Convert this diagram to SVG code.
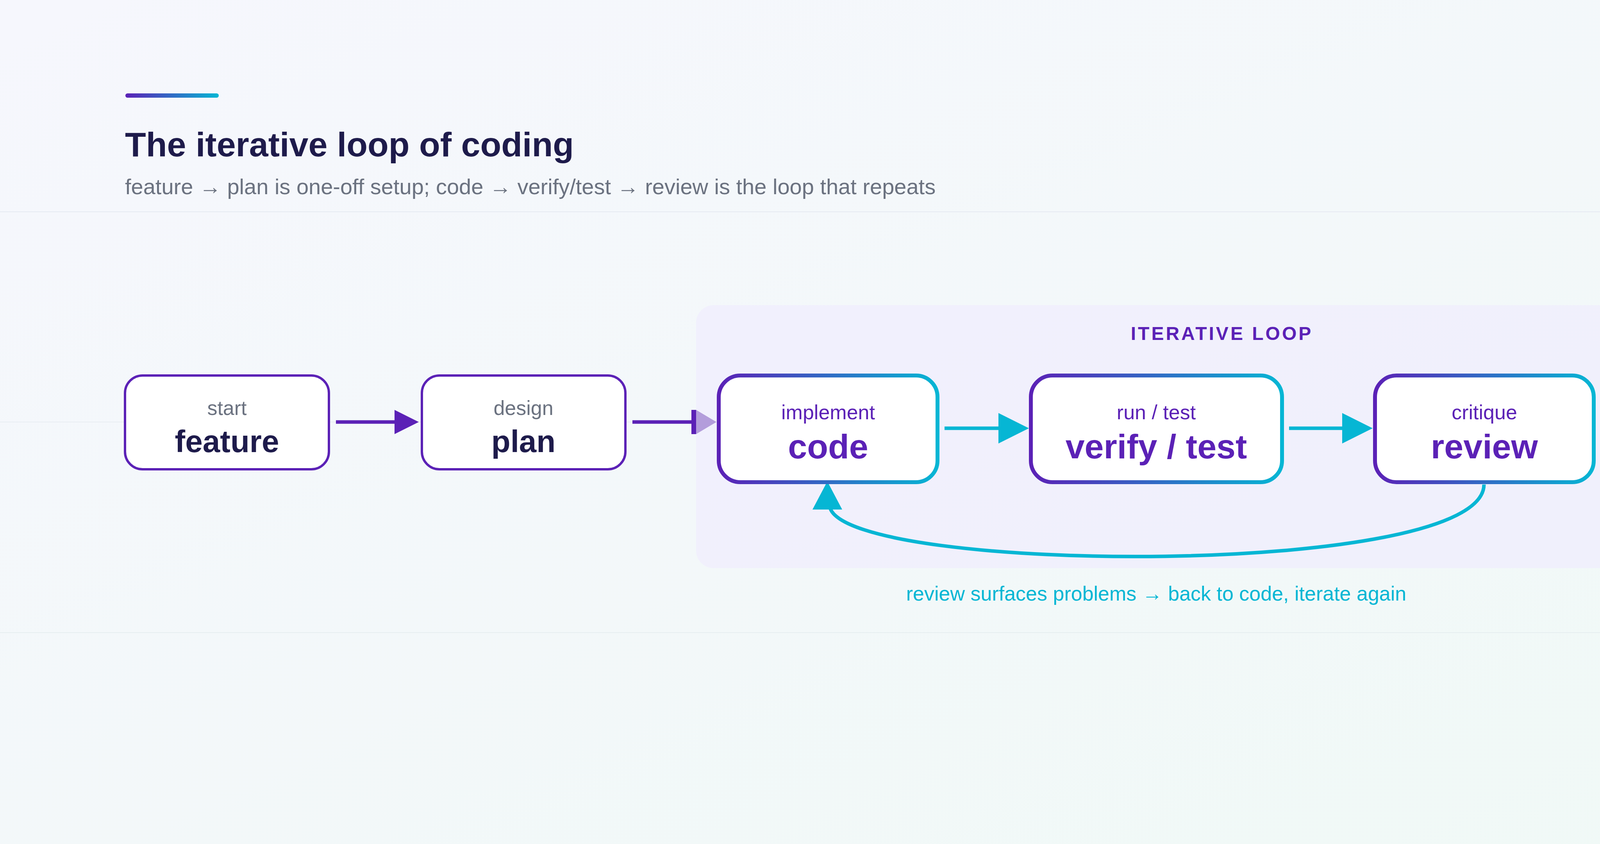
<svg xmlns="http://www.w3.org/2000/svg" width="4800" height="2160" viewBox="0 0 4800 2160">
<defs>
<linearGradient id="bg" x1="0" y1="0" x2="1" y2="1"><stop offset="0" stop-color="#f6f7fd"/><stop offset="1" stop-color="#f0f9f6"/></linearGradient>
<linearGradient id="pc" x1="0" y1="0" x2="1" y2="0"><stop offset="0" stop-color="#5b21b6"/><stop offset="1" stop-color="#06b6d4"/></linearGradient>
<style>
text{font-family:"Liberation Sans",Arial,sans-serif}
.node{fill:#fff;stroke:#5b21b6;stroke-width:6}
.lnode{fill:#fff;stroke:url(#pc);stroke-width:10}
.sm{font-size:52px;text-anchor:middle;fill:#6b7280}
.big{font-size:80px;font-weight:bold;text-anchor:middle;fill:#1e1b4b}
.lsm{font-size:52px;text-anchor:middle;fill:#5b21b6}
.lbig{font-size:88px;font-weight:bold;text-anchor:middle;fill:#5b21b6}
.cy{stroke:#06b6d4;stroke-width:9;fill:none}
</style>
</defs>
<rect width="4800" height="2160" fill="url(#bg)"/>
<line x1="0" y1="542" x2="4800" y2="542" stroke="#e6eaf2" stroke-width="2"/>
<line x1="0" y1="1080" x2="4800" y2="1080" stroke="#e9edf3" stroke-width="2"/>
<line x1="0" y1="1619" x2="4800" y2="1619" stroke="#e6eef0" stroke-width="2"/>
<rect x="321" y="239" width="239" height="11" rx="5.5" fill="url(#pc)"/>
<text x="320" y="400" font-size="88" font-weight="bold" fill="#1e1b4b">The iterative loop of coding</text>
<text x="320" y="497" font-size="56" fill="#6b7280">feature → plan is one-off setup; code → verify/test → review is the loop that repeats</text>
<rect id="loop-group" x="1782" y="781" width="2693" height="673" rx="45" fill="#f0effd" opacity="0.85"/>
<text x="3128" y="870" font-size="48" font-weight="bold" letter-spacing="5" text-anchor="middle" fill="#5b21b6">ITERATIVE LOOP</text>
<g id="connectors">
<line x1="860" y1="1080" x2="1012" y2="1080" stroke="#5b21b6" stroke-width="9"/>
<polygon points="1010,1049 1072,1080 1010,1111" fill="#5b21b6"/>
<line x1="1619" y1="1080" x2="1775" y2="1080" stroke="#5b21b6" stroke-width="9"/>
<rect x="1770" y="1049" width="12" height="62" fill="#5b21b6"/>
<polygon points="1782,1049 1834,1080 1782,1111" fill="#b39ddb"/>
<line x1="2418" y1="1096" x2="2560" y2="1096" class="cy"/>
<polygon points="2556,1057 2634,1096 2556,1135" fill="#06b6d4"/>
<line x1="3300" y1="1096" x2="3440" y2="1096" class="cy"/>
<polygon points="3436,1057 3514,1096 3436,1135" fill="#06b6d4"/>
<path d="M3799 1240 C3799 1480 2180 1470 2125 1300" class="cy"/>
<polygon points="2118,1232 2156,1304 2080,1304" fill="#06b6d4"/>
</g>
<g id="feature"><rect x="320" y="961" width="522" height="240" rx="45" class="node"/><text x="581" y="1062" class="sm">start</text><text x="581" y="1157" class="big">feature</text></g>
<g id="plan"><rect x="1080" y="961" width="521" height="240" rx="45" class="node"/><text x="1340" y="1062" class="sm">design</text><text x="1340" y="1157" class="big">plan</text></g>
<g id="code"><rect x="1840" y="961" width="560" height="273" rx="55" class="lnode"/><text x="2120" y="1073" class="lsm">implement</text><text x="2120" y="1173" class="lbig">code</text></g>
<g id="verify"><rect x="2639" y="961" width="643" height="273" rx="55" class="lnode"/><text x="2960" y="1073" class="lsm">run / test</text><text x="2960" y="1173" class="lbig">verify / test</text></g>
<g id="review"><rect x="3520" y="961" width="560" height="273" rx="55" class="lnode"/><text x="3800" y="1073" class="lsm">critique</text><text x="3800" y="1173" class="lbig">review</text></g>
<text x="2960" y="1537" font-size="52" text-anchor="middle" fill="#06b6d4">review surfaces problems → back to code, iterate again</text>
</svg>
